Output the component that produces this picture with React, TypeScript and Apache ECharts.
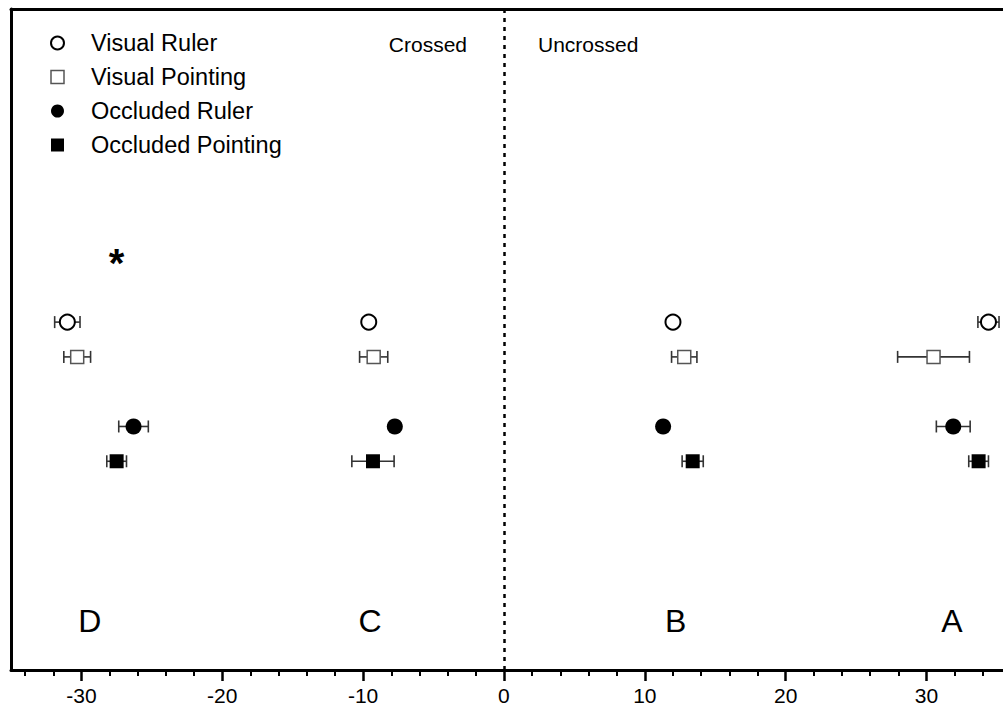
import React, { useEffect, useRef } from 'react';
import * as echarts from 'echarts';

const seriesNames = ['Visual Ruler', 'Visual Pointing', 'Occluded Ruler', 'Occluded Pointing'];
const groupLabels = ['D', 'C', 'B', 'A'];
const groupLabelX = [-29.4, -9.5, 12.2, 31.8];
const groupLabelY = 1.4;

const visualRulerX = [-31.0, -9.6, 12.0, 34.4];
const visualRulerErr = [0.9, 0.3, 0.3, 0.75];
const visualPointingX = [-30.3, -9.25, 12.8, 30.5];
const visualPointingErr = [0.95, 1.0, 0.9, 2.55];
const occludedRulerX = [-26.3, -7.75, 11.3, 31.9];
const occludedRulerErr = [1.05, 0.3, 0.3, 1.2];
const occludedPointingX = [-27.5, -9.3, 13.4, 33.7];
const occludedPointingErr = [0.7, 1.5, 0.75, 0.7];

const rowY = [10, 9, 7, 6];
const starPoint = [-27.5, 11.9];
const starText = ['*'];

const majorTicks = [-30, -20, -10, 0, 10, 20, 30];
const minorTicks = [-34, -32, -28, -26, -24, -22, -18, -16, -14, -12, -8, -6, -4, -2, 2, 4, 6, 8, 12, 14, 16, 18, 22, 24, 26, 28, 32, 34];

const regionLabels = ['Crossed', 'Uncrossed'];

export default function App() {
  const ref = useRef<HTMLDivElement>(null);
  useEffect(() => {
    const chart = echarts.init(ref.current!, null, { renderer: 'svg' });
    const font = 'Liberation Sans, Arial, Helvetica, sans-serif';
    const defs = [
      { xs: visualRulerX, errs: visualRulerErr, symbol: 'circle', size: 15, fill: '#fff', stroke: '#000', bw: 2 },
      { xs: visualPointingX, errs: visualPointingErr, symbol: 'rect', size: 13, fill: '#fff', stroke: '#555', bw: 1.5 },
      { xs: occludedRulerX, errs: occludedRulerErr, symbol: 'circle', size: 16, fill: '#000', stroke: '#000', bw: 0 },
      { xs: occludedPointingX, errs: occludedPointingErr, symbol: 'rect', size: 14, fill: '#000', stroke: '#000', bw: 0 },
    ];
    const axisMin = -35;
    const axisMax = 36;
    const series: any[] = [];
    defs.forEach((d, i) => {
      series.push({
        type: 'custom',
        name: 'err' + i,
        z: 2,
        silent: true,
        data: d.xs.map((x, k) => [x, rowY[i], d.errs[k]]),
        encode: { x: 0, y: 1 },
        renderItem: (params: any, api: any) => {
          const x = api.value(0);
          const y = api.value(1);
          const e = api.value(2);
          const lo = api.coord([x - e, y]);
          const hi = api.coord([x + e, y]);
          const h = 6;
          const st = { stroke: '#333', lineWidth: 1.6 };
          return {
            type: 'group',
            children: [
              { type: 'line', shape: { x1: lo[0], y1: lo[1], x2: hi[0], y2: hi[1] }, style: st },
              { type: 'line', shape: { x1: lo[0], y1: lo[1] - h, x2: lo[0], y2: lo[1] + h }, style: st },
              { type: 'line', shape: { x1: hi[0], y1: hi[1] - h, x2: hi[0], y2: hi[1] + h }, style: st },
            ],
          };
        },
      });
      series.push({
        type: 'scatter',
        name: seriesNames[i],
        z: 5,
        symbol: d.symbol,
        symbolSize: d.size,
        itemStyle: { color: d.fill, borderColor: d.stroke, borderWidth: d.bw, opacity: 1 },
        data: d.xs.map((x) => [x, rowY[i]]),
      });
    });
    const textItem = (texts: string[], size: number, weight: string, dy: number) => (params: any, api: any) => {
      const p = api.coord([api.value(0), api.value(1)]);
      return {
        type: 'text',
        x: p[0],
        y: p[1] + dy,
        style: {
          text: texts[params.dataIndex],
          fill: '#000',
          fontSize: size,
          fontWeight: weight,
          fontFamily: font,
          align: 'center',
          verticalAlign: 'middle',
        },
      };
    };
    series.push({
      type: 'custom',
      name: 'groups',
      silent: true,
      z: 6,
      encode: { x: 0, y: 1 },
      data: groupLabelX.map((x) => [x, groupLabelY]),
      renderItem: textItem(groupLabels, 32, 'normal', 0),
      markLine: {
        silent: true,
        symbol: ['none', 'none'],
        label: { show: false },
        lineStyle: { color: '#000', width: 2.5, type: [4, 5] },
        data: [{ xAxis: 0 }],
      },
    });
    series.push({
      type: 'custom',
      name: 'sig',
      silent: true,
      z: 6,
      encode: { x: 0, y: 1 },
      data: [starPoint],
      renderItem: textItem(starText, 40, 'bold', 7),
    });

    chart.setOption({
      animation: false,
      backgroundColor: '#fff',
      grid: { left: 11, top: 9, width: 1000, height: 661, containLabel: false },
      legend: {
        orient: 'vertical',
        left: 45,
        top: 25,
        itemWidth: 13,
        itemHeight: 13,
        itemGap: 8,
        selectedMode: false,
        textStyle: { fontSize: 23.5, fontFamily: font, color: '#000', lineHeight: 26, padding: [0, 0, 0, 22] },
        data: [
          { name: seriesNames[0], icon: 'circle', itemStyle: { color: '#fff', borderColor: '#000', borderWidth: 2 } },
          { name: seriesNames[1], icon: 'rect', itemStyle: { color: '#fff', borderColor: '#555', borderWidth: 1.5 } },
          { name: seriesNames[2], icon: 'circle', itemStyle: { color: '#000', borderWidth: 0 } },
          { name: seriesNames[3], icon: 'rect', itemStyle: { color: '#000', borderWidth: 0 } },
        ],
      },
      xAxis: [
        {
          type: 'value',
          min: axisMin,
          max: axisMax,
          position: 'bottom',
          splitLine: { show: false },
          axisLine: { show: true, onZero: false, lineStyle: { color: '#000', width: 3 } },
          axisTick: { show: true, customValues: majorTicks, length: 11, lineStyle: { color: '#000', width: 2.5 } },
          axisLabel: { show: true, customValues: majorTicks, fontSize: 21, fontFamily: font, color: '#000', margin: 15 },
        },
        {
          type: 'value',
          min: axisMin,
          max: axisMax,
          position: 'bottom',
          splitLine: { show: false },
          axisLine: { show: false },
          axisTick: { show: true, customValues: minorTicks, length: 6, lineStyle: { color: '#000', width: 2 } },
          axisLabel: { show: false },
        },
        {
          type: 'value',
          min: axisMin,
          max: axisMax,
          position: 'top',
          splitLine: { show: false },
          axisLine: { show: true, onZero: false, lineStyle: { color: '#000', width: 3 } },
          axisTick: { show: false },
          axisLabel: { show: false },
        },
      ],
      yAxis: {
        type: 'value',
        min: 0,
        max: 19,
        splitLine: { show: false },
        axisLine: { show: true, onZero: false, lineStyle: { color: '#000', width: 3 } },
        axisTick: { show: false },
        axisLabel: { show: false },
      },
      graphic: [
        {
          type: 'text',
          right: 1040 - 467,
          top: 34,
          style: { text: regionLabels[0], fontSize: 21, fontFamily: font, fill: '#000' },
        },
        {
          type: 'text',
          left: 538,
          top: 34,
          style: { text: regionLabels[1], fontSize: 21, fontFamily: font, fill: '#000' },
        },
      ],
      series,
    });
    return () => chart.dispose();
  }, []);
  return (
    <div style={{ position: 'absolute', left: 0, top: 0, width: 1003, height: 710, overflow: 'hidden', background: '#fff' }}>
      <div ref={ref} style={{ position: 'absolute', left: 0, top: 0, width: 1040, height: 710 }} />
    </div>
  );
}
